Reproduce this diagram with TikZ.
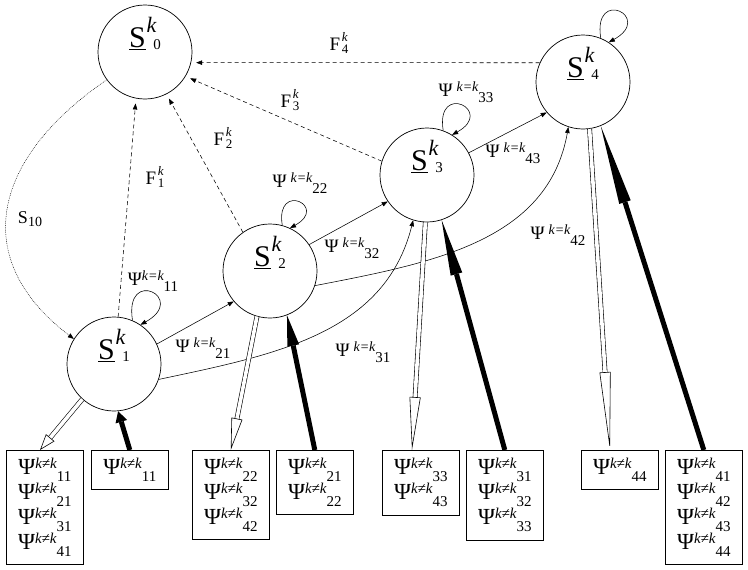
\documentclass[tikz,border=0pt]{standalone}
\usepackage{fontspec}
\setmainfont{Liberation Serif}
\usetikzlibrary{arrows.meta,positioning,calc}
\newcommand{\stlab}[1]{{\fontsize{30}{30}\selectfont\underline{S}}\kern1pt\raisebox{15pt}{\fontsize{22}{22}\selectfont\itshape k}\kern-3pt\raisebox{-2pt}{\fontsize{15}{15}\selectfont #1}}
\newcommand{\psieq}[2][4pt]{{\fontsize{19}{19}\selectfont Ψ}\kern#1\raisebox{5pt}{\fontsize{14}{14}\selectfont\itshape k=k}\raisebox{-6pt}{\fontsize{15}{15}\selectfont #2}}
\newcommand{\psine}[1]{{\fontsize{23}{23}\selectfont Ψ}\raisebox{6pt}{\fontsize{15}{15}\selectfont\itshape k≠k}\raisebox{-7pt}{\fontsize{15}{15}\selectfont #1}}
\newcommand{\flab}[1]{F\kern1.5pt\rlap{\raisebox{9pt}{\fontsize{13}{13}\selectfont\itshape k}}\raisebox{-3pt}{\fontsize{13}{13}\selectfont #1}}
\tikzset{
	stnode/.style={circle,draw,line width=.7pt,minimum size=94pt,inner sep=0pt,text height=22pt,text depth=31pt},
	psibox/.style={draw,line width=.6pt,text width=69pt,inner xsep=4pt,inner ysep=8pt,align=center,anchor=north west,font=\fontsize{23}{25}\selectfont},
	diredge/.style={-{Triangle[length=6pt,width=4.5pt]},line width=.55pt},
	fedge/.style={diredge,dash pattern=on 4pt off 3pt,shorten >=5pt},
	dotedge/.style={diredge,line width=.45pt,dash pattern=on .8pt off 1pt},
	selfloop/.style={diredge,out=99,in=29},
	inarrow/.style={line width=5pt,-{Triangle[length=#1,width=12pt,line width=0pt]}},
	outarrow/.style={double,double distance=3.6pt,line width=.6pt,-{Triangle[open,length=#1,width=11pt]}},
	flabel/.style={font=\fontsize{19}{19}\selectfont},
	psilabel/.style={inner sep=0pt}
}
\begin{document}
\begin{tikzpicture}[x=1pt,y=1pt]
		\useasboundingbox[fill=white] (0,0) rectangle (748,-570);
		%%% states
		\node[stnode] (S0) at (145,-52) {\stlab{0}};
		\node[stnode] (S1) at (114,-364) {\stlab{1}};
		\node[stnode] (S2) at (270,-271) {\stlab{2}};
		\node[stnode] (S3) at (427,-175) {\stlab{3}};
		\node[stnode] (S4) at (583,-82) {\stlab{4}};
		
		%%% boxes
		\node[psibox] (B1a) at (6,-450) {\psine{11}\\\psine{21}\\\psine{31}\\\psine{41}};
		\node[psibox] (B1b) at (91,-450) {\psine{11}};
		\node[psibox] (B2a) at (192,-450) {\psine{22}\\\psine{32}\\\psine{42}};
		\node[psibox] (B2b) at (276,-450) {\psine{21}\\\psine{22}};
		\node[psibox] (B3a) at (382,-450) {\psine{33}\\\psine{43}};
		\node[psibox] (B3b) at (466,-450) {\psine{31}\\\psine{32}\\\psine{33}};
		\node[psibox] (B4a) at (581,-450) {\psine{44}};
		\node[psibox] (B4b) at (665,-450) {\psine{41}\\\psine{42}\\\psine{43}\\\psine{44}};
		
		%%% F edges
		\draw[fedge] (S4.156) -- (S0.-13);
		\draw[fedge] (S3.163) -- (S0.-31);
		\draw[fedge] (S2.125) -- (S0.-63);
		\draw[fedge] (S1.85) -- (S0.-101);
		\node[flabel] (lF4) at (339,-42.5) {\flab{4}};
		\node[flabel] (lF3) at (290,-100) {\flab{3}};
		\node[flabel] (lF2) at (223,-138) {\flab{2}};
		\node[flabel] (lF1) at (155,-177) {\flab{1}};
		
		\draw[dotedge] (S0.216) .. controls (-10,-160) and (-30,-260) .. (S1.148);
		\node (lS10) at (30,-219) {{\fontsize{18}{18}\selectfont S}\raisebox{-3pt}{\fontsize{14}{14}\selectfont 10}};
		
		%%% psi edges
		\draw[diredge] (S1.25) -- (S2.220);
		\draw[diredge] (S2.34) -- (S3.214);
		\draw[diredge] (S3.28) -- (S4.220);
		\draw[diredge] (S1.-19) to[out=12,in=256] (S3.253);
		\draw[diredge] (S2.-18) to[out=11,in=260] (S4.252);
		
		\draw[selfloop,distance=55pt] (S1.67) to (S1.56);
		\draw[selfloop,distance=45pt] (S2.75) to (S2.65);
		\draw[selfloop,distance=50pt] (S3.70) to (S3.58);
		\draw[selfloop,distance=52pt] (S4.68) to (S4.57);
		
		\node[psilabel] (l11) at (153,-281) {\psieq[0pt]{11}};
		\node[psilabel] (l22) at (300,-183) {\psieq{22}};
		\node[psilabel] (l21) at (203,-348) {\psieq{21}};
		\node[psilabel] (l32) at (352,-248) {\psieq{32}};
		\node[psilabel] (l31) at (363,-352) {\psieq{31}};
		\node[psilabel] (l33) at (466,-92) {\psieq{33}};
		\node[psilabel] (l43) at (513,-153) {\psieq{43}};
		\node[psilabel] (l42) at (558,-235) {\psieq{42}};
		
		%%% out and in arrows
		\draw[outarrow=16pt] (S1.228) -- ([xshift=34pt]B1a.north west);
		\draw[outarrow=32pt] (S2.254) -- (B2a.north);
		\draw[outarrow=53pt] (S3.268) -- ([xshift=30pt]B3a.north west);
		\draw[outarrow=78pt] (S4.278) -- ([xshift=29pt]B4a.north west);
		
		\draw[inarrow=11pt] (B1b.north) -- (S1.275);
		\draw[inarrow=31pt] (B2b.north) -- (S2.291);
		\draw[inarrow=56pt] (B3b.north) -- (S3.288);
		\draw[inarrow=80pt] (B4b.north) -- (S4.292);
	\end{tikzpicture}
\end{document}
